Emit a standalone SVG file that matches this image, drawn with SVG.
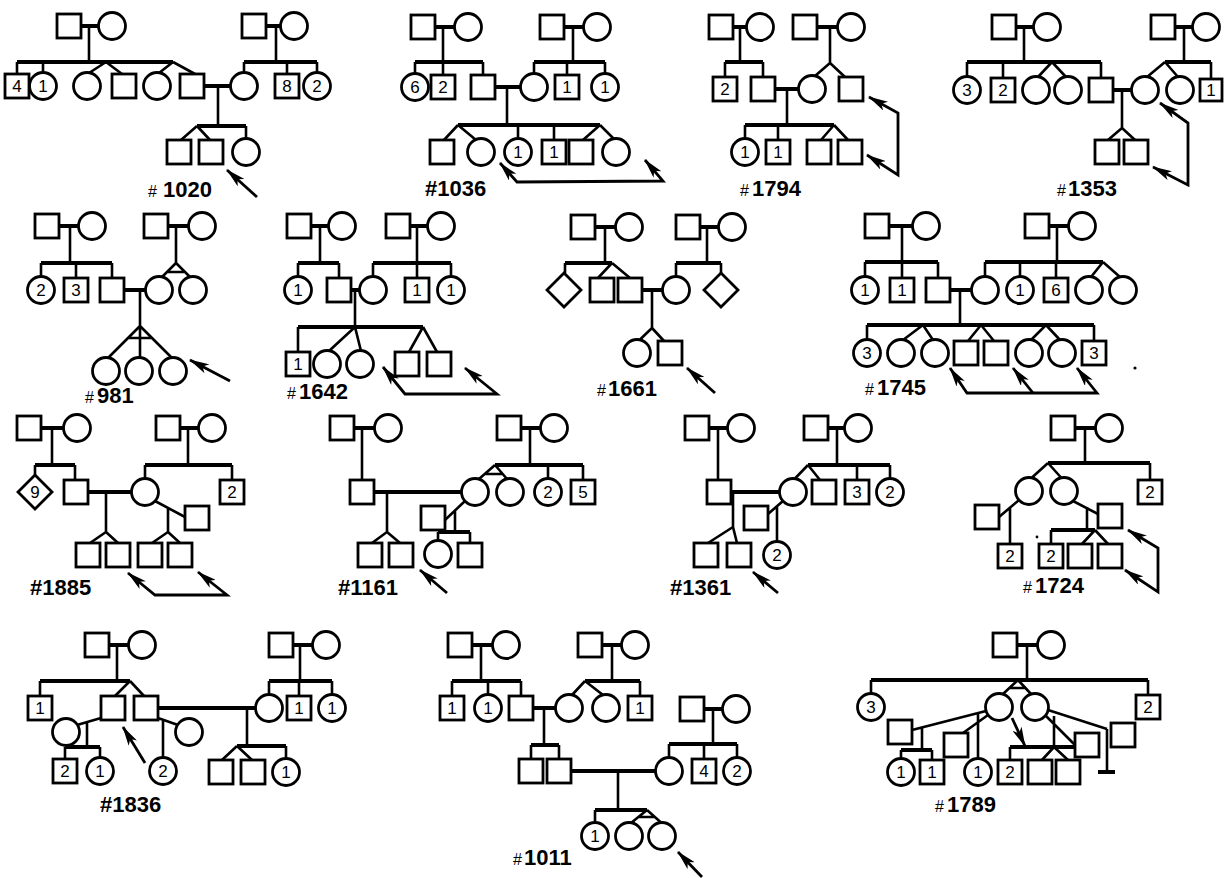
<svg xmlns="http://www.w3.org/2000/svg" width="1225" height="878" viewBox="0 0 1225 878">
<style>
.s{fill:#fff;stroke:#000;stroke-width:2.8}
.l{fill:none;stroke:#000;stroke-width:2.6}
.t{fill:none;stroke:#000;stroke-width:4}
.a{fill:none;stroke:#000;stroke-width:2.8;marker-end:url(#ah)}
.b{fill:none;stroke:#000;stroke-width:2.8;marker-start:url(#ah);marker-end:url(#ah)}
.n{font-family:"Liberation Sans",Arial,sans-serif;font-size:17px;text-anchor:middle;fill:#000}
.lab{font-family:"Liberation Sans",Arial,sans-serif;font-size:22px;font-weight:bold;fill:#000}
.h{font-size:16px;font-weight:normal}
</style>
<defs>
<marker id="ah" viewBox="0 0 20 10" refX="19" refY="5" markerWidth="20" markerHeight="10" markerUnits="userSpaceOnUse" orient="auto-start-reverse"><path d="M0,0 L20,5 L0,10 L5,5 z" fill="#000"/></marker>
</defs>
<rect width="1225" height="878" fill="#fff"/>

<!-- ===== #1020 ===== -->
<g id="ped1020">
<g id="c1020">
<path class="t" d="M81,26H98.5M17,62H173M204,86H230.5M197,126H246M266,26H280.5M244,62H317"/>
<path class="l" d="M89,26V62M17,62V74M43,62V72.5M106,62L89,73M106,62L122,74M173,62L159,73M173,62L195,74M218,86V126M246,126V138.5M197,126L181,140M197,126L210,140M276,26V62M244,62V72.5M287,62V74M317,62V72.5"/>
<path class="a" d="M257,197L227,170"/>
</g>
<g id="n1020a1"><rect class="s" x="57" y="14" width="24" height="24"/></g>
<g id="n1020a2"><circle class="s" cx="112" cy="26" r="13.5"/></g>
<g id="n1020b1"><rect class="s" x="242" y="14" width="24" height="24"/></g>
<g id="n1020b2"><circle class="s" cx="294" cy="26" r="13.5"/></g>
<g id="n1020c1"><rect class="s" x="5" y="74" width="24" height="24"/><text class="n" x="17" y="92">4</text></g>
<g id="n1020c2"><circle class="s" cx="43" cy="86" r="13.5"/><text class="n" x="43" y="92">1</text></g>
<g id="n1020c3"><circle class="s" cx="87" cy="86" r="13.5"/></g>
<g id="n1020c4"><rect class="s" x="112" y="74" width="24" height="24"/></g>
<g id="n1020c5"><circle class="s" cx="157" cy="86" r="13.5"/></g>
<g id="n1020c6"><rect class="s" x="180" y="74" width="24" height="24"/></g>
<g id="n1020c7"><circle class="s" cx="244" cy="86" r="13.5"/></g>
<g id="n1020c8"><rect class="s" x="275" y="74" width="24" height="24"/><text class="n" x="287" y="92">8</text></g>
<g id="n1020c9"><circle class="s" cx="317" cy="86" r="13.5"/><text class="n" x="317" y="92">2</text></g>
<g id="n1020d1"><rect class="s" x="167" y="140" width="24" height="24"/></g>
<g id="n1020d2"><rect class="s" x="199" y="140" width="24" height="24"/></g>
<g id="n1020d3"><circle class="s" cx="246" cy="152" r="13.5"/></g>
<text class="lab" x="148" y="197"><tspan class="h">#</tspan><tspan x="163">1020</tspan></text>
</g>

<!-- ===== #1036 ===== -->
<g id="ped1036">
<g id="c1036">
<path class="t" d="M435,27H454.5M415,62H483M495,87H520.5M565,27H583.5M534,62H605M458,125H600"/>
<path class="l" d="M443,27V62M415,62V73.5M443,62V75M483,62V75M507,87V125M573,27V62M534,62V73.5M567,62V75M605,62V73.5M458,125L444,140M458,125L476,140M518,125V138.5M554,125V140M600,125L583,140M600,125L614,139"/>
<path class="b" d="M500,163L517,182L663,181L645,160"/>
</g>
<g id="n1036a1"><rect class="s" x="411" y="15" width="24" height="24"/></g>
<g id="n1036a2"><circle class="s" cx="468" cy="27" r="13.5"/></g>
<g id="n1036b1"><rect class="s" x="540" y="15" width="24" height="24"/></g>
<g id="n1036b2"><circle class="s" cx="597" cy="27" r="13.5"/></g>
<g id="n1036c1"><circle class="s" cx="415" cy="87" r="13.5"/><text class="n" x="415" y="93">6</text></g>
<g id="n1036c2"><rect class="s" x="431" y="75" width="24" height="24"/><text class="n" x="443" y="93">2</text></g>
<g id="n1036c3"><rect class="s" x="471" y="75" width="24" height="24"/></g>
<g id="n1036c4"><circle class="s" cx="534" cy="87" r="13.5"/></g>
<g id="n1036c5"><rect class="s" x="555" y="75" width="24" height="24"/><text class="n" x="567" y="93">1</text></g>
<g id="n1036c6"><circle class="s" cx="605" cy="87" r="13.5"/><text class="n" x="605" y="93">1</text></g>
<g id="n1036d1"><rect class="s" x="430" y="140" width="24" height="24"/></g>
<g id="n1036d2"><circle class="s" cx="481" cy="152" r="13.5"/></g>
<g id="n1036d3"><circle class="s" cx="518" cy="152" r="13.5"/><text class="n" x="518" y="158">1</text></g>
<g id="n1036d4"><rect class="s" x="542" y="140" width="24" height="24"/><text class="n" x="554" y="158">1</text></g>
<g id="n1036d5"><rect class="s" x="569" y="140" width="24" height="24"/></g>
<g id="n1036d6"><circle class="s" cx="616" cy="152" r="13.5"/></g>
<text class="lab" x="425" y="196">#1036</text>
</g>

<!-- ===== #1794 ===== -->
<g id="ped1794">
<g id="c1794">
<path class="t" d="M733,27H746.5M725,62H763M817,27H837.5M775,89H798.5M745,125H834"/>
<path class="l" d="M740,27V62M725,62V77M763,62V77M830,27V63M830,63L815,76M830,63L845,77M787,89V125M745,125V138.5M778,125V140M834,125L821,140M834,125L848,140"/>
<path class="b" d="M869,97L898,113L898,175L867,155"/>
</g>
<g id="n1794a1"><rect class="s" x="709" y="15" width="24" height="24"/></g>
<g id="n1794a2"><circle class="s" cx="760" cy="27" r="13.5"/></g>
<g id="n1794b1"><rect class="s" x="793" y="15" width="24" height="24"/></g>
<g id="n1794b2"><circle class="s" cx="851" cy="27" r="13.5"/></g>
<g id="n1794c1"><rect class="s" x="713" y="77" width="24" height="24"/><text class="n" x="725" y="95">2</text></g>
<g id="n1794c2"><rect class="s" x="751" y="77" width="24" height="24"/></g>
<g id="n1794c3"><circle class="s" cx="812" cy="89" r="13.5"/></g>
<g id="n1794c4"><rect class="s" x="839" y="77" width="24" height="24"/></g>
<g id="n1794d1"><circle class="s" cx="745" cy="152" r="13.5"/><text class="n" x="745" y="158">1</text></g>
<g id="n1794d2"><rect class="s" x="766" y="140" width="24" height="24"/><text class="n" x="778" y="158">1</text></g>
<g id="n1794d3"><rect class="s" x="807" y="140" width="24" height="24"/></g>
<g id="n1794d4"><rect class="s" x="838" y="140" width="24" height="24"/></g>
<text class="lab" x="740" y="196"><tspan class="h">#</tspan><tspan x="752">1794</tspan></text>
</g>

<!-- ===== #1353 ===== -->
<g id="ped1353">
<g id="c1353">
<path class="t" d="M1016,27H1033.5M967,62H1101M1175,27H1192.5M1165,62H1211M1113,90H1131.5"/>
<path class="l" d="M1024,27V62M967,62V76.5M1003,62V78M1052,62L1038,77M1052,62L1066,77M1101,62V78M1184,27V62M1165,62L1147,77M1165,62L1178,77M1211,62V78M1122,90V128M1122,128L1108,140M1122,128L1135,140"/>
<path class="b" d="M1160,103L1188,123L1188,185L1153,167"/>
</g>
<g id="n1353a1"><rect class="s" x="992" y="15" width="24" height="24"/></g>
<g id="n1353a2"><circle class="s" cx="1047" cy="27" r="13.5"/></g>
<g id="n1353b1"><rect class="s" x="1151" y="15" width="24" height="24"/></g>
<g id="n1353b2"><circle class="s" cx="1206" cy="27" r="13.5"/></g>
<g id="n1353c1"><circle class="s" cx="967" cy="90" r="13.5"/><text class="n" x="967" y="96">3</text></g>
<g id="n1353c2"><rect class="s" x="991" y="78" width="24" height="24"/><text class="n" x="1003" y="96">2</text></g>
<g id="n1353c3"><circle class="s" cx="1036" cy="90" r="13.5"/></g>
<g id="n1353c4"><circle class="s" cx="1068" cy="90" r="13.5"/></g>
<g id="n1353c5"><rect class="s" x="1089" y="78" width="24" height="24"/></g>
<g id="n1353c6"><circle class="s" cx="1145" cy="90" r="13.5"/></g>
<g id="n1353c7"><circle class="s" cx="1180" cy="90" r="13.5"/></g>
<g id="n1353c8"><rect class="s" x="1200" y="79" width="22" height="22"/><text class="n" x="1211" y="96">1</text></g>
<g id="n1353d1"><rect class="s" x="1095" y="140" width="24" height="24"/></g>
<g id="n1353d2"><rect class="s" x="1124" y="140" width="24" height="24"/></g>
<text class="lab" x="1057" y="196"><tspan class="h">#</tspan><tspan x="1068">1353</tspan></text>
</g>

<!-- ===== #981 ===== -->
<g id="ped981">
<g id="c981">
<path class="t" d="M59,226H78.5M41,263H112M168,226H188.5M124,290H145.5"/>
<path class="l" d="M70,226V263M41,263V276.5M76,263V278M112,263V278M176,226V263M176,263L162,277M176,263L190,277M167,272H185M140,290V326M140,326L108,358M140,326V357.5M140,326L172,358M128,338H152"/>
<path class="a" d="M230,381L190,360"/>
</g>
<g id="n981a1"><rect class="s" x="35" y="214" width="24" height="24"/></g>
<g id="n981a2"><circle class="s" cx="92" cy="226" r="13.5"/></g>
<g id="n981b1"><rect class="s" x="144" y="214" width="24" height="24"/></g>
<g id="n981b2"><circle class="s" cx="202" cy="226" r="13.5"/></g>
<g id="n981c1"><circle class="s" cx="41" cy="290" r="13.5"/><text class="n" x="41" y="296">2</text></g>
<g id="n981c2"><rect class="s" x="64" y="278" width="24" height="24"/><text class="n" x="76" y="296">3</text></g>
<g id="n981c3"><rect class="s" x="100" y="278" width="24" height="24"/></g>
<g id="n981c4"><circle class="s" cx="159" cy="290" r="13.5"/></g>
<g id="n981c5"><circle class="s" cx="193" cy="290" r="13.5"/></g>
<g id="n981d1"><circle class="s" cx="106" cy="371" r="13.5"/></g>
<g id="n981d2"><circle class="s" cx="139" cy="371" r="13.5"/></g>
<g id="n981d3"><circle class="s" cx="173" cy="371" r="13.5"/></g>
<text class="lab" x="85" y="403"><tspan class="h">#</tspan><tspan x="97">981</tspan></text>
</g>

<!-- ===== #1642 ===== -->
<g id="ped1642">
<g id="c1642">
<path class="t" d="M311,226H328.5M298,263H339M410,226H427.5M373,263H451M351,290H359.5M298,327H423"/>
<path class="l" d="M320,226V263M298,263V276.5M339,263V278M417,226V278M373,263V276.5M451,263V276.5M355,290V327M298,327V352M355,327L329,351M355,327L361,351M423,327L409,352M423,327L437,352"/>
<path class="b" d="M383,367L405,394L497,394L465,368"/>
</g>
<g id="n1642a1"><rect class="s" x="287" y="214" width="24" height="24"/></g>
<g id="n1642a2"><circle class="s" cx="342" cy="226" r="13.5"/></g>
<g id="n1642b1"><rect class="s" x="386" y="214" width="24" height="24"/></g>
<g id="n1642b2"><circle class="s" cx="441" cy="226" r="13.5"/></g>
<g id="n1642c1"><circle class="s" cx="298" cy="290" r="13.5"/><text class="n" x="298" y="296">1</text></g>
<g id="n1642c2"><rect class="s" x="327" y="278" width="24" height="24"/></g>
<g id="n1642c3"><circle class="s" cx="373" cy="290" r="13.5"/></g>
<g id="n1642c4"><rect class="s" x="405" y="278" width="24" height="24"/><text class="n" x="417" y="296">1</text></g>
<g id="n1642c5"><circle class="s" cx="451" cy="290" r="13.5"/><text class="n" x="451" y="296">1</text></g>
<g id="n1642d1"><rect class="s" x="286" y="352" width="24" height="24"/><text class="n" x="298" y="370">1</text></g>
<g id="n1642d2"><circle class="s" cx="327" cy="364" r="13.5"/></g>
<g id="n1642d3"><circle class="s" cx="360" cy="364" r="13.5"/></g>
<g id="n1642d4"><rect class="s" x="395" y="352" width="24" height="24"/></g>
<g id="n1642d5"><rect class="s" x="427" y="352" width="24" height="24"/></g>
<text class="lab" x="287" y="399"><tspan class="h">#</tspan><tspan x="299">1642</tspan></text>
</g>

<!-- ===== #1661 ===== -->
<g id="ped1661">
<g id="c1661">
<path class="t" d="M595,227H615.5M565,263H612M700,227H718.5M676,263H721M642,290H662.5"/>
<path class="l" d="M605,227V263M565,263V273M612,263L598,278M612,263L630,278M707,227V263M676,263V276.5M721,263V273M652,290V328M652,328L640,339.5M652,328L664,341"/>
<path class="a" d="M715,393L687,368"/>
</g>
<g id="n1661a1"><rect class="s" x="571" y="215" width="24" height="24"/></g>
<g id="n1661a2"><circle class="s" cx="629" cy="227" r="13.5"/></g>
<g id="n1661b1"><rect class="s" x="676" y="215" width="24" height="24"/></g>
<g id="n1661b2"><circle class="s" cx="732" cy="227" r="13.5"/></g>
<g id="n1661c1"><polygon class="s" points="564,273 581,290 564,307 547,290"/></g>
<g id="n1661c2"><rect class="s" x="590" y="278" width="24" height="24"/></g>
<g id="n1661c3"><rect class="s" x="618" y="278" width="24" height="24"/></g>
<g id="n1661c4"><circle class="s" cx="676" cy="290" r="13.5"/></g>
<g id="n1661c5"><polygon class="s" points="721,273 738,290 721,307 704,290"/></g>
<g id="n1661d1"><circle class="s" cx="637" cy="353" r="13.5"/></g>
<g id="n1661d2"><rect class="s" x="658" y="341" width="24" height="24"/></g>
<text class="lab" x="597" y="396"><tspan class="h">#</tspan><tspan x="608">1661</tspan></text>
</g>

<!-- ===== #1745 ===== -->
<g id="ped1745">
<g id="c1745">
<path class="t" d="M889,226H912.5M865,262H938M1049,226H1068.5M985,262H1103M950,290H971.5M867,325H1094"/>
<path class="l" d="M902,226V262M865,262V276.5M902,262V278M938,262V278M1057,226V262M985,262V276.5M1020,262V276.5M1056,262V278M1103,262L1091,277M1103,262L1120,277M960,290V325M867,325V339.5M1094,325V341M923,325L903,340M923,325L933,340M981,325L968,341M981,325L994,341M1046,325L1031,340M1046,325L1060,340"/>
<path class="b" d="M950,368L967,393L1097,393L1077,368"/>
<path class="a" d="M1033,393L1013,368"/>
</g>
<g id="n1745a1"><rect class="s" x="865" y="214" width="24" height="24"/></g>
<g id="n1745a2"><circle class="s" cx="926" cy="226" r="13.5"/></g>
<g id="n1745b1"><rect class="s" x="1025" y="214" width="24" height="24"/></g>
<g id="n1745b2"><circle class="s" cx="1082" cy="226" r="13.5"/></g>
<g id="n1745c1"><circle class="s" cx="865" cy="290" r="13.5"/><text class="n" x="865" y="296">1</text></g>
<g id="n1745c2"><rect class="s" x="890" y="278" width="24" height="24"/><text class="n" x="902" y="296">1</text></g>
<g id="n1745c3"><rect class="s" x="926" y="278" width="24" height="24"/></g>
<g id="n1745c4"><circle class="s" cx="985" cy="290" r="13.5"/></g>
<g id="n1745c5"><circle class="s" cx="1020" cy="290" r="13.5"/><text class="n" x="1020" y="296">1</text></g>
<g id="n1745c6"><rect class="s" x="1044" y="278" width="24" height="24"/><text class="n" x="1056" y="296">6</text></g>
<g id="n1745c7"><circle class="s" cx="1089" cy="290" r="13.5"/></g>
<g id="n1745c8"><circle class="s" cx="1123" cy="290" r="13.5"/></g>
<g id="n1745d1"><circle class="s" cx="867" cy="353" r="13.5"/><text class="n" x="867" y="359">3</text></g>
<g id="n1745d2"><circle class="s" cx="901" cy="353" r="13.5"/></g>
<g id="n1745d3"><circle class="s" cx="935" cy="353" r="13.5"/></g>
<g id="n1745d4"><rect class="s" x="954" y="341" width="24" height="24"/></g>
<g id="n1745d5"><rect class="s" x="984" y="341" width="24" height="24"/></g>
<g id="n1745d6"><circle class="s" cx="1029" cy="353" r="13.5"/></g>
<g id="n1745d7"><circle class="s" cx="1062" cy="353" r="13.5"/></g>
<g id="n1745d8"><rect class="s" x="1082" y="341" width="24" height="24"/><text class="n" x="1094" y="359">3</text></g>
<circle cx="1135" cy="368" r="1.6" fill="#000"/>
<text class="lab" x="865" y="395"><tspan class="h">#</tspan><tspan x="877">1745</tspan></text>
</g>

<!-- ===== #1885 ===== -->
<g id="ped1885">
<g id="c1885">
<path class="t" d="M41,428H63.5M35,465H75M180,428H198.5M145,465H232M88,492H131.5"/>
<path class="l" d="M52,428V465M35,465V475M75,465V480M188,428V465M145,465V478.5M232,465V480M106,492V532M106,532L90,543M106,532L118,543M155,501L185,517M168,507V532M168,532L152,543M168,532L180,543"/>
<path class="b" d="M128,573L155,595L227,595L198,572"/>
</g>
<g id="n1885a1"><rect class="s" x="17" y="416" width="24" height="24"/></g>
<g id="n1885a2"><circle class="s" cx="77" cy="428" r="13.5"/></g>
<g id="n1885b1"><rect class="s" x="156" y="416" width="24" height="24"/></g>
<g id="n1885b2"><circle class="s" cx="212" cy="428" r="13.5"/></g>
<g id="n1885c1"><polygon class="s" points="35,475 52,492 35,509 18,492"/><text class="n" x="35" y="498">9</text></g>
<g id="n1885c2"><rect class="s" x="64" y="480" width="24" height="24"/></g>
<g id="n1885c3"><circle class="s" cx="145" cy="492" r="13.5"/></g>
<g id="n1885c4"><rect class="s" x="220" y="480" width="24" height="24"/><text class="n" x="232" y="498">2</text></g>
<g id="n1885e1"><rect class="s" x="185" y="506" width="24" height="24"/></g>
<g id="n1885d1"><rect class="s" x="76" y="543" width="24" height="24"/></g>
<g id="n1885d2"><rect class="s" x="106" y="543" width="24" height="24"/></g>
<g id="n1885d3"><rect class="s" x="138" y="543" width="24" height="24"/></g>
<g id="n1885d4"><rect class="s" x="168" y="543" width="24" height="24"/></g>
<text class="lab" x="30" y="595">#1885</text>
</g>

<!-- ===== #1161 ===== -->
<g id="ped1161">
<g id="c1161">
<path class="t" d="M354,428H374.5M521,428H540.5M495,465H583M374,492H461.5M438,532H470"/>
<path class="l" d="M362,428V480M530,428V465M495,465L479,479M495,465L507,479M485,474H503M548,465V478.5M583,465V480M387,492V532M387,532L372,543M387,532L400,543M465,501L445,520M455,510V532M438,532V540.5M470,532V543"/>
<path class="a" d="M447,593L420,570"/>
</g>
<g id="n1161a1"><rect class="s" x="330" y="416" width="24" height="24"/></g>
<g id="n1161a2"><circle class="s" cx="388" cy="428" r="13.5"/></g>
<g id="n1161b1"><rect class="s" x="497" y="416" width="24" height="24"/></g>
<g id="n1161b2"><circle class="s" cx="554" cy="428" r="13.5"/></g>
<g id="n1161c1"><rect class="s" x="350" y="480" width="24" height="24"/></g>
<g id="n1161c2"><circle class="s" cx="475" cy="492" r="13.5"/></g>
<g id="n1161c3"><circle class="s" cx="510" cy="492" r="13.5"/></g>
<g id="n1161c4"><circle class="s" cx="548" cy="492" r="13.5"/><text class="n" x="548" y="498">2</text></g>
<g id="n1161c5"><rect class="s" x="571" y="480" width="24" height="24"/><text class="n" x="583" y="498">5</text></g>
<g id="n1161e1"><rect class="s" x="421" y="506" width="24" height="24"/></g>
<g id="n1161d1"><rect class="s" x="358" y="543" width="24" height="24"/></g>
<g id="n1161d2"><rect class="s" x="389" y="543" width="24" height="24"/></g>
<g id="n1161d3"><circle class="s" cx="438" cy="554" r="13.5"/></g>
<g id="n1161d4"><rect class="s" x="458" y="543" width="24" height="24"/></g>
<text class="lab" x="338" y="595">#1161</text>
</g>

<!-- ===== #1361 ===== -->
<g id="ped1361">
<g id="c1361">
<path class="t" d="M709,428H727.5M828,428H844.5M808,465H890M731,492H779.5"/>
<path class="l" d="M718,428V480M837,428V465M808,465L795,478.5M808,465L820,480M857,465V480M890,465V478.5M733,492V527M733,527L708,543M733,527L737,543M783,501L768,514M777,506V541.5"/>
<path class="a" d="M778,593L753,572"/>
</g>
<g id="n1361a1"><rect class="s" x="685" y="416" width="24" height="24"/></g>
<g id="n1361a2"><circle class="s" cx="741" cy="428" r="13.5"/></g>
<g id="n1361b1"><rect class="s" x="804" y="416" width="24" height="24"/></g>
<g id="n1361b2"><circle class="s" cx="858" cy="428" r="13.5"/></g>
<g id="n1361c1"><rect class="s" x="707" y="480" width="24" height="24"/></g>
<g id="n1361c2"><circle class="s" cx="793" cy="492" r="13.5"/></g>
<g id="n1361c3"><rect class="s" x="812" y="480" width="24" height="24"/></g>
<g id="n1361c4"><rect class="s" x="845" y="480" width="24" height="24"/><text class="n" x="857" y="498">3</text></g>
<g id="n1361c5"><circle class="s" cx="890" cy="492" r="13.5"/><text class="n" x="890" y="498">2</text></g>
<g id="n1361e1"><rect class="s" x="744" y="506" width="24" height="24"/></g>
<g id="n1361d1"><rect class="s" x="694" y="543" width="24" height="24"/></g>
<g id="n1361d2"><rect class="s" x="727" y="543" width="24" height="24"/></g>
<g id="n1361d3"><circle class="s" cx="777" cy="555" r="13.5"/><text class="n" x="777" y="561">2</text></g>
<text class="lab" x="670" y="595">#1361</text>
</g>

<!-- ===== #1724 ===== -->
<g id="ped1724">
<g id="c1724">
<path class="t" d="M1075,428H1095.5M1048,463H1150M1051,530H1095"/>
<path class="l" d="M1085,428V463M1048,463L1032,477.5M1048,463L1061,477.5M1150,463V480M1019,500L999,517M1010,508V544M1073,501L1098,514M1087,507V530M1051,530V544M1095,530L1082,544M1095,530L1108,544"/>
<path class="b" d="M1128,530L1158,548L1158,592L1125,570"/>
</g>
<g id="n1724a1"><rect class="s" x="1051" y="416" width="24" height="24"/></g>
<g id="n1724a2"><circle class="s" cx="1109" cy="428" r="13.5"/></g>
<g id="n1724c1"><circle class="s" cx="1029" cy="491" r="13.5"/></g>
<g id="n1724c2"><circle class="s" cx="1064" cy="491" r="13.5"/></g>
<g id="n1724c3"><rect class="s" x="1138" y="480" width="24" height="24"/><text class="n" x="1150" y="498">2</text></g>
<g id="n1724e1"><rect class="s" x="975" y="505" width="24" height="24"/></g>
<g id="n1724e2"><rect class="s" x="1098" y="504" width="24" height="24"/></g>
<g id="n1724d1"><rect class="s" x="998" y="544" width="24" height="24"/><text class="n" x="1010" y="562">2</text></g>
<g id="n1724d2"><rect class="s" x="1039" y="544" width="24" height="24"/><text class="n" x="1051" y="562">2</text></g>
<g id="n1724d3"><rect class="s" x="1068" y="544" width="24" height="24"/></g>
<g id="n1724d4"><rect class="s" x="1098" y="544" width="24" height="24"/></g>
<circle cx="1037" cy="537" r="1.4" fill="#000"/>
<text class="lab" x="1023" y="593"><tspan class="h">#</tspan><tspan x="1035">1724</tspan></text>
</g>

<!-- ===== #1836 ===== -->
<g id="ped1836">
<g id="c1836">
<path class="t" d="M109,645H128.5M40,681H130M293,645H312.5M269,681H332M158,708H255.5M237,746H286M65,747H100"/>
<path class="l" d="M117,645V681M40,681V696M130,681L115,696M130,681L144,696M300,645V681M269,681V694.5M299,681V696M332,681V694.5M247,708V746M286,746V758.5M237,746L222,760M237,746L252,760M101,718L77,725M87,721V747M65,747V759M100,747V757.5M158,718L178,725M163,720V757.5"/>
<path class="a" d="M145,763L123,727"/>
</g>
<g id="n1836a1"><rect class="s" x="85" y="633" width="24" height="24"/></g>
<g id="n1836a2"><circle class="s" cx="142" cy="645" r="13.5"/></g>
<g id="n1836b1"><rect class="s" x="269" y="633" width="24" height="24"/></g>
<g id="n1836b2"><circle class="s" cx="326" cy="645" r="13.5"/></g>
<g id="n1836c1"><rect class="s" x="28" y="696" width="24" height="24"/><text class="n" x="40" y="714">1</text></g>
<g id="n1836c2"><rect class="s" x="101" y="696" width="24" height="24"/></g>
<g id="n1836c3"><rect class="s" x="134" y="696" width="24" height="24"/></g>
<g id="n1836c4"><circle class="s" cx="269" cy="708" r="13.5"/></g>
<g id="n1836c5"><rect class="s" x="287" y="696" width="24" height="24"/><text class="n" x="299" y="714">1</text></g>
<g id="n1836c6"><circle class="s" cx="332" cy="708" r="13.5"/><text class="n" x="332" y="714">1</text></g>
<g id="n1836e1"><circle class="s" cx="66" cy="732" r="13.5"/></g>
<g id="n1836e2"><circle class="s" cx="189" cy="732" r="13.5"/></g>
<g id="n1836d1"><rect class="s" x="53" y="759" width="24" height="24"/><text class="n" x="65" y="777">2</text></g>
<g id="n1836d2"><circle class="s" cx="100" cy="771" r="13.5"/><text class="n" x="100" y="777">1</text></g>
<g id="n1836d3"><circle class="s" cx="163" cy="771" r="13.5"/><text class="n" x="163" y="777">2</text></g>
<g id="n1836d4"><rect class="s" x="209" y="760" width="24" height="24"/></g>
<g id="n1836d5"><rect class="s" x="241" y="760" width="24" height="24"/></g>
<g id="n1836d6"><circle class="s" cx="286" cy="772" r="13.5"/><text class="n" x="286" y="778">1</text></g>
<text class="lab" x="100" y="812">#1836</text>
</g>

<!-- ===== #1011 ===== -->
<g id="ped1011">
<g id="c1011">
<path class="t" d="M472,645H492.5M452,681H521M602,645H621.5M585,681H640M533,708H555.5M531,745H559M704,709H722.5M669,744H737M571,771H655.5M595,810H647"/>
<path class="l" d="M481,645V681M452,681V696M488,681V694.5M521,681V696M612,645V681M585,681L572,695M585,681L603,695M640,681V696M544,708V745M531,745V759M559,745V759M713,709V744M669,744V757.5M704,744V759M737,744V757.5M618,771V810M595,810V822.5M647,810L631,823M647,810L661,822.5M638,817H655"/>
<path class="a" d="M702,877L678,852"/>
</g>
<g id="n1011a1"><rect class="s" x="448" y="633" width="24" height="24"/></g>
<g id="n1011a2"><circle class="s" cx="506" cy="645" r="13.5"/></g>
<g id="n1011b1"><rect class="s" x="578" y="633" width="24" height="24"/></g>
<g id="n1011b2"><circle class="s" cx="635" cy="645" r="13.5"/></g>
<g id="n1011c1"><rect class="s" x="440" y="696" width="24" height="24"/><text class="n" x="452" y="714">1</text></g>
<g id="n1011c2"><circle class="s" cx="488" cy="708" r="13.5"/><text class="n" x="488" y="714">1</text></g>
<g id="n1011c3"><rect class="s" x="509" y="696" width="24" height="24"/></g>
<g id="n1011c4"><circle class="s" cx="569" cy="708" r="13.5"/></g>
<g id="n1011c5"><circle class="s" cx="606" cy="708" r="13.5"/></g>
<g id="n1011c6"><rect class="s" x="628" y="696" width="24" height="24"/><text class="n" x="640" y="714">1</text></g>
<g id="n1011g1"><rect class="s" x="680" y="697" width="24" height="24"/></g>
<g id="n1011g2"><circle class="s" cx="736" cy="709" r="13.5"/></g>
<g id="n1011d1"><rect class="s" x="519" y="759" width="24" height="24"/></g>
<g id="n1011d2"><rect class="s" x="547" y="759" width="24" height="24"/></g>
<g id="n1011f1"><circle class="s" cx="669" cy="771" r="13.5"/></g>
<g id="n1011f2"><rect class="s" x="692" y="759" width="24" height="24"/><text class="n" x="704" y="777">4</text></g>
<g id="n1011f3"><circle class="s" cx="737" cy="771" r="13.5"/><text class="n" x="737" y="777">2</text></g>
<g id="n1011h1"><circle class="s" cx="595" cy="836" r="13.5"/><text class="n" x="595" y="842">1</text></g>
<g id="n1011h2"><circle class="s" cx="629" cy="836" r="13.5"/></g>
<g id="n1011h3"><circle class="s" cx="662" cy="836" r="13.5"/></g>
<text class="lab" x="513" y="865"><tspan class="h">#</tspan><tspan x="524">1011</tspan></text>
</g>

<!-- ===== #1789 ===== -->
<g id="ped1789">
<g id="c1789">
<path class="t" d="M1017,645H1037.5M871,680H1148M901,750H932M1010,747H1075M1098,772H1115"/>
<path class="l" d="M1027,645V680M871,680V693.5M1148,680V695M1018,680L1003,694M1018,680L1031,694M1009,688H1026M986,711L912,730M922,727V750M901,750V758.5M932,750V760M988,715L963,733M978,712V758.5M1048,710L1107,729M1107,729V771M1046,716L1075,745M1054,716V747M1010,747V760M1054,747L1042,760M1054,747L1068,760"/>
<path class="a" d="M1012,718L1025,746"/>
</g>
<g id="n1789a1"><rect class="s" x="993" y="633" width="24" height="24"/></g>
<g id="n1789a2"><circle class="s" cx="1051" cy="645" r="13.5"/></g>
<g id="n1789c1"><circle class="s" cx="871" cy="707" r="13.5"/><text class="n" x="871" y="713">3</text></g>
<g id="n1789c2"><circle class="s" cx="999" cy="707" r="13.5"/></g>
<g id="n1789c3"><circle class="s" cx="1035" cy="707" r="13.5"/></g>
<g id="n1789c4"><rect class="s" x="1136" y="695" width="24" height="24"/><text class="n" x="1148" y="713">2</text></g>
<g id="n1789e1"><rect class="s" x="888" y="720" width="24" height="24"/></g>
<g id="n1789e2"><rect class="s" x="944" y="733" width="24" height="24"/></g>
<g id="n1789e3"><rect class="s" x="1111" y="723" width="24" height="24"/></g>
<g id="n1789e4"><rect class="s" x="1075" y="733" width="24" height="24"/></g>
<g id="n1789d1"><circle class="s" cx="901" cy="772" r="13.5"/><text class="n" x="901" y="778">1</text></g>
<g id="n1789d2"><rect class="s" x="920" y="760" width="24" height="24"/><text class="n" x="932" y="778">1</text></g>
<g id="n1789d3"><circle class="s" cx="978" cy="772" r="13.5"/><text class="n" x="978" y="778">1</text></g>
<g id="n1789d4"><rect class="s" x="998" y="760" width="24" height="24"/><text class="n" x="1010" y="778">2</text></g>
<g id="n1789d5"><rect class="s" x="1028" y="760" width="24" height="24"/></g>
<g id="n1789d6"><rect class="s" x="1056" y="760" width="24" height="24"/></g>
<text class="lab" x="935" y="812"><tspan class="h">#</tspan><tspan x="947">1789</tspan></text>
</g>
</svg>
